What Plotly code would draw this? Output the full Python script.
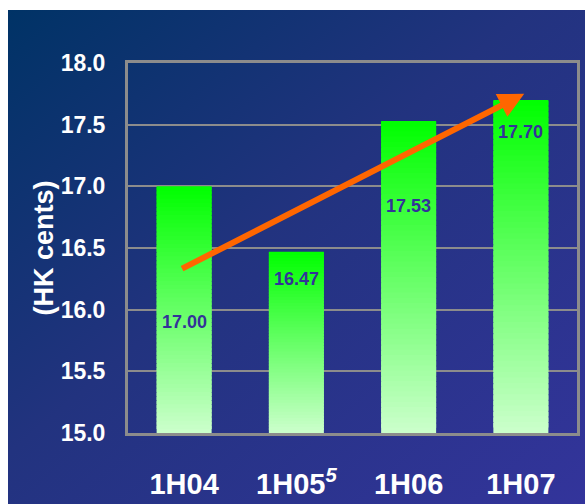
import base64
import plotly.graph_objects as go

# ---------------- data ----------------
categories = ["1H04", "1H05<sup><i>5</i></sup>", "1H06", "1H07"]
values = [17.00, 16.47, 17.53, 17.70]
value_labels = ["17.00", "16.47", "17.53", "17.70"]
y_ticks = [15.0, 15.5, 16.0, 16.5, 17.0, 17.5, 18.0]
y_tick_labels = ["15.0", "15.5", "16.0", "16.5", "17.0", "17.5", "18.0"]
y_title = "(HK cents)"

# ---------------- layout helpers (not data) ----------------
label_y = [15.90, 16.25, 16.84, 17.44]      # vertical anchor of value labels
arrow_from = (-0.045, 16.32)                # trend arrow tail (category index, axis units)
arrow_to = (3.03, 17.75)                    # trend arrow tip

AXIS_MIN, AXIS_MAX = 15.0, 18.0
N_STEPS = 60
TOP_RGB = (0, 255, 0)
BOTTOM_RGB = (204, 255, 204)
FONT = "Liberation Sans, Arial, sans-serif"

W, H = 585, 504
L, R, T, B = 128, 8, 63, 71

fig = go.Figure()

# gradient bars built from stacked slices of each bar
for k in range(N_STEPS):
    t = (k + 0.5) / N_STEPS
    col = "rgb({},{},{})".format(*[round(b + (a - b) * t) for a, b in zip(TOP_RGB, BOTTOM_RGB)])
    bases = [AXIS_MIN + (v - AXIS_MIN) * k / N_STEPS for v in values]
    factor = 1.0 if k == N_STEPS - 1 else 1.8
    heights = [(v - AXIS_MIN) / N_STEPS * factor for v in values]
    fig.add_trace(go.Bar(
        x=categories, y=heights, base=bases, width=0.49,
        marker=dict(color=col, line=dict(width=0)),
        hoverinfo="skip", showlegend=False,
    ))

# value labels
for c, ly, txt in zip(categories, label_y, value_labels):
    fig.add_annotation(x=c, y=ly, xref="x", yref="y", text=txt, showarrow=False,
                       font=dict(family=FONT, size=18, color="#333399", weight="bold"))

# trend arrow
fig.add_annotation(x=arrow_to[0], y=arrow_to[1], ax=arrow_from[0], ay=arrow_from[1],
                   xref="x", yref="y", axref="x", ayref="y", text=" ", showarrow=True,
                   arrowhead=2, arrowsize=0.85, arrowwidth=6, arrowcolor="#ff6600", standoff=0)

# background gradient via inline SVG
svg = ('<svg xmlns="http://www.w3.org/2000/svg" width="100" height="100" viewBox="0 0 100 100" '
       'preserveAspectRatio="none"><defs><linearGradient id="g" x1="0" y1="0" x2="1" y2="1">'
       '<stop offset="0" stop-color="#003366"/><stop offset="0.45" stop-color="#22337f"/>'
       '<stop offset="1" stop-color="#33349b"/></linearGradient></defs>'
       '<rect x="0" y="0" width="100" height="100" fill="url(#g)"/></svg>')
src = "data:image/svg+xml;base64," + base64.b64encode(svg.encode()).decode()
pw, ph = W - L - R, H - T - B
bg_left, bg_top = 8, 10
fig.add_layout_image(dict(
    source=src, xref="paper", yref="paper",
    x=(bg_left - L) / pw, y=(H - B - bg_top) / ph,
    sizex=(W - bg_left) / pw, sizey=(H - bg_top) / ph,
    xanchor="left", yanchor="top", sizing="stretch", layer="below",
))

fig.update_layout(
    width=W, height=H, margin=dict(l=L, r=R, t=T, b=B, autoexpand=False),
    paper_bgcolor="white", plot_bgcolor="rgba(0,0,0,0)",
    barmode="overlay", bargap=0.51,
)
fig.update_xaxes(
    showgrid=False, showline=True, mirror=True, linecolor="#8c8c8c", linewidth=3,
    ticks="", ticklabelstandoff=23,
    tickfont=dict(family=FONT, size=29, color="white", weight="bold"),
)
fig.update_yaxes(
    range=[AXIS_MIN, AXIS_MAX], tickvals=y_ticks, ticktext=y_tick_labels,
    showgrid=True, gridcolor="#8c8c8c", gridwidth=1.5,
    showline=True, mirror=True, linecolor="#8c8c8c", linewidth=3, zeroline=False,
    ticks="", ticklabelstandoff=15,
    tickfont=dict(family=FONT, size=23, color="white", weight="bold"),
    title=dict(text=y_title, standoff=0,
               font=dict(family=FONT, size=27, color="white", weight="bold")),
)

fig.write_html("out.html")
